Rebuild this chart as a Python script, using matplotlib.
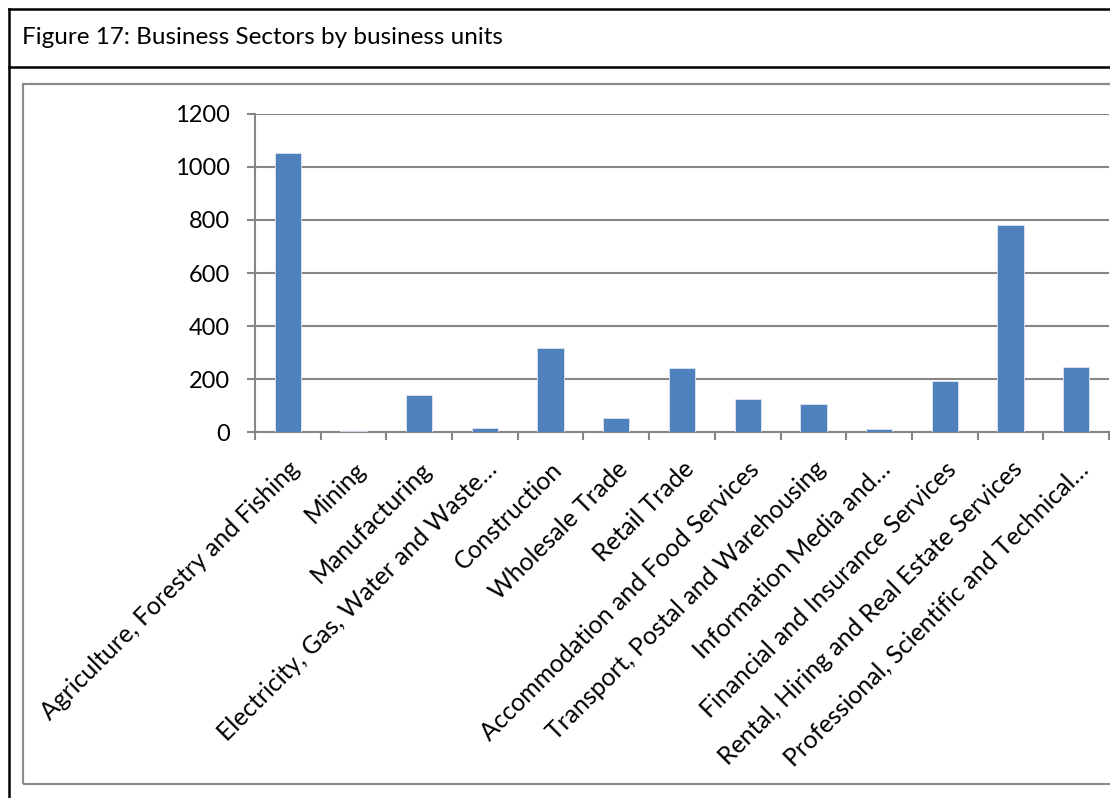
import matplotlib
matplotlib.use('Agg')
import matplotlib.pyplot as plt
from matplotlib.lines import Line2D
from matplotlib.patches import Rectangle
import numpy as np

# ---- data ----
categories = [
    "Agriculture, Forestry and Fishing",
    "Mining",
    "Manufacturing",
    "Electricity, Gas, Water and Waste…",
    "Construction",
    "Wholesale Trade",
    "Retail Trade",
    "Accommodation and Food Services",
    "Transport, Postal and Warehousing",
    "Information Media and…",
    "Financial and Insurance Services",
    "Rental, Hiring and Real Estate Services",
    "Professional, Scientific and Technical…",
]
units = [1053, 5, 139, 15, 319, 53, 241, 125, 105, 11, 194, 782, 245]
ytick_values = [0, 200, 400, 600, 800, 1000, 1200]
title_text = "Figure 17: Business Sectors by business units"

FONT = ['Lato', 'DejaVu Sans']
plt.rcParams['font.family'] = FONT

W, H = 1110, 798
fig = plt.figure(figsize=(W / 100, H / 100), dpi=100)

def fx(px):
    return px / W

def fy(py):
    return 1 - py / H

# ---- frame (table look) ----
black = '#000000'
fig.add_artist(Line2D([fx(9), fx(W + 5)], [fy(9), fy(9)], color=black, lw=1.8, transform=fig.transFigure))
fig.add_artist(Line2D([fx(9), fx(9)], [fy(9), fy(H + 5)], color=black, lw=1.8, transform=fig.transFigure))
fig.add_artist(Line2D([fx(9), fx(W + 5)], [fy(67), fy(67)], color=black, lw=1.8, transform=fig.transFigure))
# inner chart box (gray)
fig.add_artist(Rectangle((fx(23), fy(784)), fx(W + 20) - fx(23), fy(84) - fy(784),
                         fill=False, edgecolor='#8c8c8c', lw=1.6, transform=fig.transFigure))

fig.text(fx(22), fy(38), title_text, fontsize=17.5, va='center', ha='left', color='black')

# ---- axes ----
ax = fig.add_axes([fx(255), fy(432.3), fx(1109) - fx(255), fy(113.7) - fy(432.3)])
x = np.arange(len(categories))
ax.bar(x, units, width=0.4, color='#4F81BD', edgecolor='#dce6f2', linewidth=0.6, zorder=3)

ax.set_xlim(-0.5, len(categories) - 0.5)
ax.set_ylim(0, 1200)
ax.set_yticks(ytick_values)
ax.set_yticklabels([str(v) for v in ytick_values], fontsize=17)
ax.yaxis.grid(True, color='#868686', lw=1.5, zorder=0)
ax.set_axisbelow(True)

ax.set_xticks(x)
ax.set_xticklabels(categories, rotation=45, ha='right', rotation_mode='anchor', fontsize=17.8)
ax.set_xticks(np.arange(-0.5, len(categories) + 0.5, 1), minor=True)
ax.tick_params(axis='x', which='major', length=0, pad=18)
ax.tick_params(axis='x', which='minor', length=6, width=1.5, color='#868686', direction='out')
ax.tick_params(axis='y', length=6, width=1.5, color='#868686', direction='out', pad=12)

for s in ['top', 'right']:
    ax.spines[s].set_visible(False)
for s in ['left', 'bottom']:
    ax.spines[s].set_color('#868686')
    ax.spines[s].set_linewidth(1.5)

fig.savefig('out.png', dpi=100)
